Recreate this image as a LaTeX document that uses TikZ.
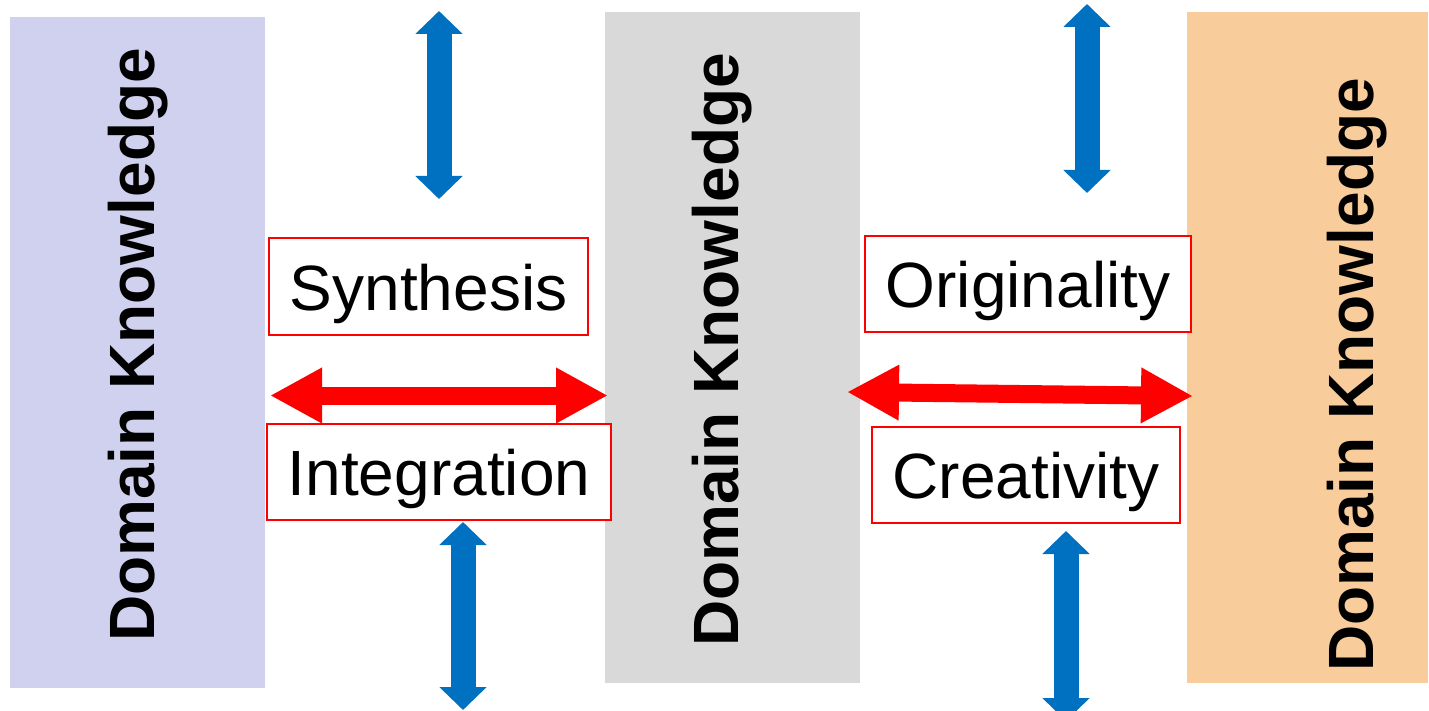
\documentclass[tikz,border=0pt]{standalone}
\usepackage{fontspec}
\setmainfont{Liberation Sans}
\usetikzlibrary{arrows.meta}
\definecolor{lav}{RGB}{208,209,238}
\definecolor{midgray}{RGB}{217,217,217}
\definecolor{peach}{RGB}{248,204,155}
\definecolor{blueA}{RGB}{0,112,192}
\tikzset{
  panel/.style={draw=none, inner sep=0pt},
  dktext/.style={rotate=90, font=\fontsize{64pt}{70pt}\selectfont\bfseries, inner sep=0pt},
  word/.style={draw=red, line width=1.6pt, fill=white, inner sep=0pt, text height=47pt, text depth=0pt, font=\fontsize{64pt}{70pt}\selectfont},
  redarrow/.style={draw=red, line width=18pt, {Triangle[length=52pt,width=52pt]}-{Triangle[length=52pt,width=52pt]}},
  bluearrow/.style={draw=blueA, line width=25pt, {Triangle[length=23pt,width=46pt]}-{Triangle[length=23pt,width=46pt]}}
}
\begin{document}
\begin{tikzpicture}[x=1pt,y=-1pt]
\useasboundingbox (0,0) rectangle (1429,711);
\begin{scope}
\clip (0,0) rectangle (1429,711);
% panels
\node[panel, fill=lav, minimum width=255pt, minimum height=671pt] (L) at (137.5,352.5) {};
\node[panel, fill=midgray, minimum width=255pt, minimum height=671pt] (M) at (732.5,347.5) {};
\node[panel, fill=peach, minimum width=241pt, minimum height=671pt] (R) at (1307.5,347.5) {};
\node[dktext] (Lt) at (138,345) {Domain Knowledge};
\node[dktext] (Mt) at (722,350) {Domain Knowledge};
\node[dktext] (Rt) at (1357,375) {Domain Knowledge};
% word boxes
\node[word, minimum width=319pt, minimum height=97pt] (syn) at (428.5,286.5) {Synthesis};
\node[word, minimum width=344pt, minimum height=96pt] (int) at (439,472) {Integration};
\node[word, minimum width=326pt, minimum height=96pt] (ori) at (1028,284) {Originality};
\node[word, minimum width=308pt, minimum height=96pt] (cre) at (1026,475) {Creativity};
% red arrows
\coordinate (r1a) at (270,395.5);
\coordinate (r1b) at (608,395.5);
\coordinate (r2a) at (847,392);
\coordinate (r2b) at (1193,396);
\draw[redarrow] (r1a) -- (r1b);
\draw[redarrow] (r2a) -- (r2b);
% blue arrows
\coordinate (b1a) at (439,11);
\coordinate (b1b) at (439,199);
\coordinate (b2a) at (463,522);
\coordinate (b2b) at (463,710);
\coordinate (b3a) at (1087,4);
\coordinate (b3b) at (1087,193);
\coordinate (b4a) at (1066,531);
\coordinate (b4b) at (1066,721);
\draw[bluearrow] (b1a) -- (b1b);
\draw[bluearrow] (b2a) -- (b2b);
\draw[bluearrow] (b3a) -- (b3b);
\draw[bluearrow] (b4a) -- (b4b);
\end{scope}
\end{tikzpicture}
\end{document}
